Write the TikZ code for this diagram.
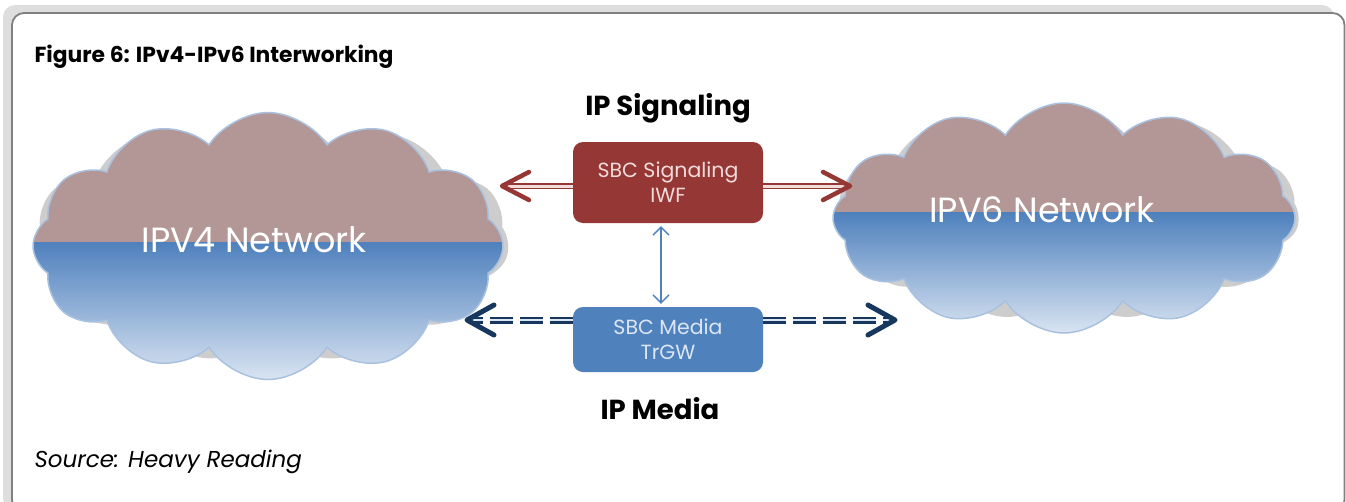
\documentclass[tikz,border=0pt]{standalone}
\usepackage{fontspec}
\setmainfont{Poppins}
\usetikzlibrary{shapes.symbols,calc,arrows.meta}

\definecolor{framegrey}{HTML}{DEDEDE}
\definecolor{frameline}{HTML}{808080}
\definecolor{mauve}{HTML}{B39696}
\definecolor{cloudblue}{HTML}{4F81BD}
\definecolor{cloudpale}{HTML}{D9E4F2}
\definecolor{cloudedge}{HTML}{A9C1DF}
\definecolor{cloudshadow}{HTML}{CDCDCD}
\definecolor{sigred}{HTML}{953735}
\definecolor{sigpink}{HTML}{F2DCDB}
\definecolor{medblue}{HTML}{4F81BD}
\definecolor{medpale}{HTML}{DCE6F2}
\definecolor{navy}{HTML}{17375E}

\begin{document}
\begin{tikzpicture}[x=1pt,y=-1pt,
  netcloud/.style={cloud, cloud puffs=12, cloud puff arc=115, cloud ignores aspect,
    draw=cloudedge, line width=1.5pt,
    path picture={
      \fill[mauve] (path picture bounding box.north west) rectangle
        ($(path picture bounding box.south east)!#1!(path picture bounding box.north east)$);
      \shade[top color=cloudblue, bottom color=cloudpale]
        ($(path picture bounding box.north west)!1-#1!(path picture bounding box.south west)$)
        rectangle (path picture bounding box.south east);
    }},
  cloudback/.style={cloud, cloud puffs=11, cloud puff arc=115, cloud ignores aspect,
    fill=cloudshadow},
  cloudtext/.style={text=white, font=\fontsize{35}{40}\selectfont},
  sbcbox/.style={rounded corners=10pt, minimum width=190pt, align=center,
    font=\fontsize{20.5}{25}\selectfont, inner sep=0pt},
  heading/.style={font=\bfseries\fontsize{27.5}{32}\selectfont, anchor=base},
  sigshaft/.style={draw=sigred, line width=1.6pt, double=sigpink, double distance=3pt},
  sighead/.style={draw=sigred, line width=4.5pt, line cap=round, line join=round},
  medshaft/.style={draw=navy, line width=2.2pt, double=medpale, double distance=2.6pt,
    dash pattern=on 23pt off 7pt},
  medhead/.style={draw=navy, line width=5pt, line cap=round, line join=round},
  ctrl/.style={draw=medblue, line width=1.3pt,
    {Straight Barb[length=8pt,width=16pt]}-{Straight Barb[length=8pt,width=16pt]},
    shorten <=3pt, shorten >=3pt},
]
\useasboundingbox (0,0) rectangle (1346,501);

% frame with offset grey band
\fill[framegrey, rounded corners=12pt] (3,5) rectangle (1334,510);
\filldraw[fill=white, draw=frameline, line width=1.8pt, rounded corners=12pt]
  (12,13) rectangle (1344.5,512);

\node[anchor=base west, font=\bfseries\fontsize{21.8}{26}\selectfont] (title) at (31,62)
  {Figure 6: IPv4-IPv6 Interworking};

% networks
\node[cloudback, minimum width=476pt, minimum height=246pt] (v4back) at (271,240) {};
\node[netcloud=0.513, minimum width=470pt, minimum height=267pt] (v4) at (268,246) {};
\node[cloudtext] (v4text) at (254,240) {IPV4 Network};

\node[cloudback, minimum width=464pt, minimum height=214pt] (v6back) at (1067,214) {};
\node[netcloud=0.522, minimum width=462pt, minimum height=230pt] (v6) at (1064,218) {};
\node[cloudtext] (v6text) at (1042,210) {IPV6 Network};

% SBC functions
\node[sbcbox, fill=sigred, text=sigpink, minimum height=81pt] (sig) at (668,182.5)
  {SBC Signaling\\IWF};
\node[sbcbox, fill=medblue, text=medpale, minimum height=65pt] (med) at (668,339.5)
  {SBC Media\\TrGW};

\node[heading] (siglabel) at (668,115) {IP Signaling};
\node[heading] (medlabel) at (660,419) {IP Media};

% signaling arrows
\coordinate (sL) at (502,186);
\coordinate (sR) at (850,186);
\draw[sigshaft, shorten >=4pt] (sig.west |- sL) -- (sL);
\draw[sigshaft, shorten >=4pt] (sig.east |- sR) -- (sR);
\draw[sighead] ($(sL)+(27,-14)$) -- (sL) -- ($(sL)+(27,14)$);
\draw[sighead] ($(sR)+(-27,-14)$) -- (sR) -- ($(sR)+(-27,14)$);

% media arrows
\coordinate (mL) at (467,320);
\coordinate (mR) at (895,320);
\draw[medshaft, shorten >=6pt] (med.west |- mL) -- (mL);
\draw[medshaft, shorten >=6pt] (med.east |- mR) -- (mR);
\draw[medhead] ($(mL)+(27,-15)$) -- (mL) -- ($(mL)+(27,15)$);
\draw[medhead] ($(mR)+(-27,-15)$) -- (mR) -- ($(mR)+(-27,15)$);

% control link
\draw[ctrl] (sig.south -| 661,0) -- (med.north -| 661,0);

\node[anchor=base west, font=\itshape\fontsize{23}{27}\selectfont] (source) at (31,467)
  {Source: Heavy Reading};
\end{tikzpicture}
\end{document}
